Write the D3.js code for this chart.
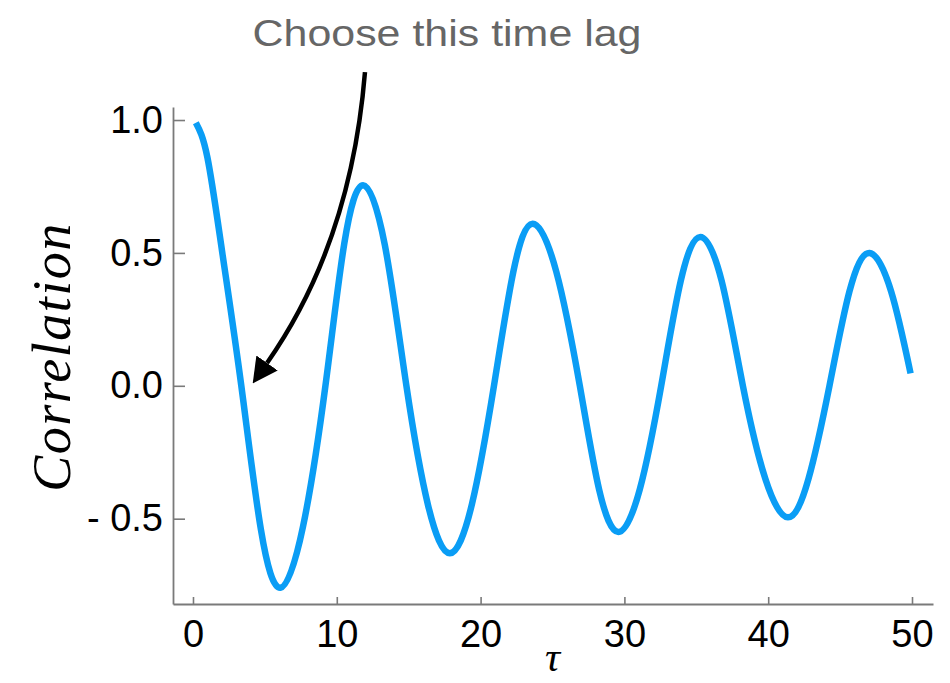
<!DOCTYPE html>
<meta charset="utf-8">
<html>
<head>
    <title>Autocorrelation</title>
    <script type="text/javascript" src="https://d3js.org/d3.v7.min.js"></script>
    <style>
        body { margin: 0; background: white; }
        .tick text { font-family: "Liberation Sans", Arial, sans-serif; fill: black; }
    </style>
</head>
<body>
    <div id="chart"></div>
    <script>
        // curve points (lag, correlation)
        var lags = [0.2, 1.0, 2.04, 3.36, 4.72, 6.08, 7.65, 9.21, 10.52, 11.83, 13.34, 14.84,
            16.35, 17.86, 19.4, 20.93, 22.28, 23.62, 25.26, 26.9, 28.24, 29.58, 31.07, 32.56,
            33.92, 35.28, 36.76, 38.24, 39.8, 41.37, 42.8, 44.26, 45.65, 47.05, 48.55, 49.9];
        var corr = [0.99, 0.86, 0.5, 0.0, -0.54, -0.76, -0.53, 0.0, 0.535, 0.755, 0.53, 0.0,
            -0.45, -0.63, -0.445, 0.0, 0.43, 0.61, 0.43, 0.0, -0.39, -0.55, -0.39, 0.0,
            0.395, 0.56, 0.395, 0.0, -0.35, -0.495, -0.35, 0.0, 0.355, 0.5, 0.355, 0.047];

        var xTicks = [0, 10, 20, 30, 40, 50];
        var yTicks = [-0.5, 0.0, 0.5, 1.0];
        var yTickLabels = ["- 0.5", "0.0", "0.5", "1.0"];

        // annotation arrow: start, control, end (in lag / correlation units)
        var arrowPts = [[11.96, 1.18], [10.99, 0.537], [5.15, 0.086]];

        var width = 950;
        var height = 683;
        var margin = { top: 107, right: 17, bottom: 79, left: 173 };

        var svg = d3.select("#chart")
            .append("svg")
            .attr("width", width)
            .attr("height", height);

        var x = d3.scaleLinear()
            .domain([-1.39, 51.46])
            .range([margin.left, width - margin.right]);

        var y = d3.scaleLinear()
            .domain([-0.821, 1.049])
            .range([height - margin.bottom, margin.top]);

        // axes
        var xAxis = d3.axisBottom(x)
            .tickValues(xTicks)
            .tickFormat(d3.format("d"))
            .tickSizeInner(-7)
            .tickSizeOuter(0)
            .tickPadding(16);

        var yAxis = d3.axisLeft(y)
            .tickValues(yTicks)
            .tickFormat(function (d, i) { return yTickLabels[i]; })
            .tickSizeInner(-12)
            .tickSizeOuter(0)
            .tickPadding(10);

        var gx = svg.append("g")
            .attr("transform", "translate(0," + (height - margin.bottom) + ")")
            .call(xAxis);

        var gy = svg.append("g")
            .attr("transform", "translate(" + margin.left + ",0)")
            .call(yAxis);

        [gx, gy].forEach(function (g) {
            g.select(".domain").attr("stroke", "#7a7a7a").attr("stroke-width", 1.8);
            g.selectAll(".tick line").attr("stroke", "#7a7a7a").attr("stroke-width", 1.6);
            g.selectAll(".tick text").style("font-size", "38px");
        });

        // the correlation curve
        var line = d3.line()
            .x(function (d, i) { return x(lags[i]); })
            .y(function (d, i) { return y(corr[i]); })
            .curve(d3.curveNatural);

        svg.append("path")
            .datum(corr)
            .attr("d", line)
            .attr("fill", "none")
            .attr("stroke", "#0a9df5")
            .attr("stroke-width", 6.5);

        // axis labels
        svg.append("text")
            .attr("transform", "translate(70," + 357 + ") rotate(-90)")
            .style("text-anchor", "middle")
            .style("font-family", "'Liberation Serif', 'Times New Roman', serif")
            .style("font-style", "italic")
            .style("font-size", "54px")
            .style("letter-spacing", "1.5px")
            .text("Correlation");

        svg.append("text")
            .attr("x", x(25))
            .attr("y", 671)
            .style("text-anchor", "middle")
            .style("font-family", "'Liberation Serif', 'Times New Roman', serif")
            .style("font-style", "italic")
            .style("font-size", "42px")
            .text("τ");

        // title / annotation
        svg.append("text")
            .attr("x", 447)
            .attr("y", 46)
            .style("text-anchor", "middle")
            .style("font-family", "'Liberation Sans', Arial, sans-serif")
            .style("font-size", "37px")
            .attr("fill", "#666666")
            .attr("textLength", 389)
            .attr("lengthAdjust", "spacingAndGlyphs")
            .text("Choose this time lag");

        svg.append("defs")
            .append("marker")
            .attr("id", "head")
            .attr("markerUnits", "userSpaceOnUse")
            .attr("viewBox", "0 0 25 26")
            .attr("markerWidth", 25)
            .attr("markerHeight", 26)
            .attr("refX", 0)
            .attr("refY", 13)
            .attr("orient", "auto")
            .append("path")
            .attr("d", "M0,0 L25,13 L0,26 Z")
            .attr("fill", "black");

        var p = arrowPts.map(function (d) { return [x(d[0]), y(d[1])]; });
        svg.append("path")
            .attr("d", "M" + p[0] + " Q" + p[1] + " " + p[2])
            .attr("fill", "none")
            .attr("stroke", "black")
            .attr("stroke-width", 4.5)
            .attr("marker-end", "url(#head)");
    </script>
</body>
</html>
